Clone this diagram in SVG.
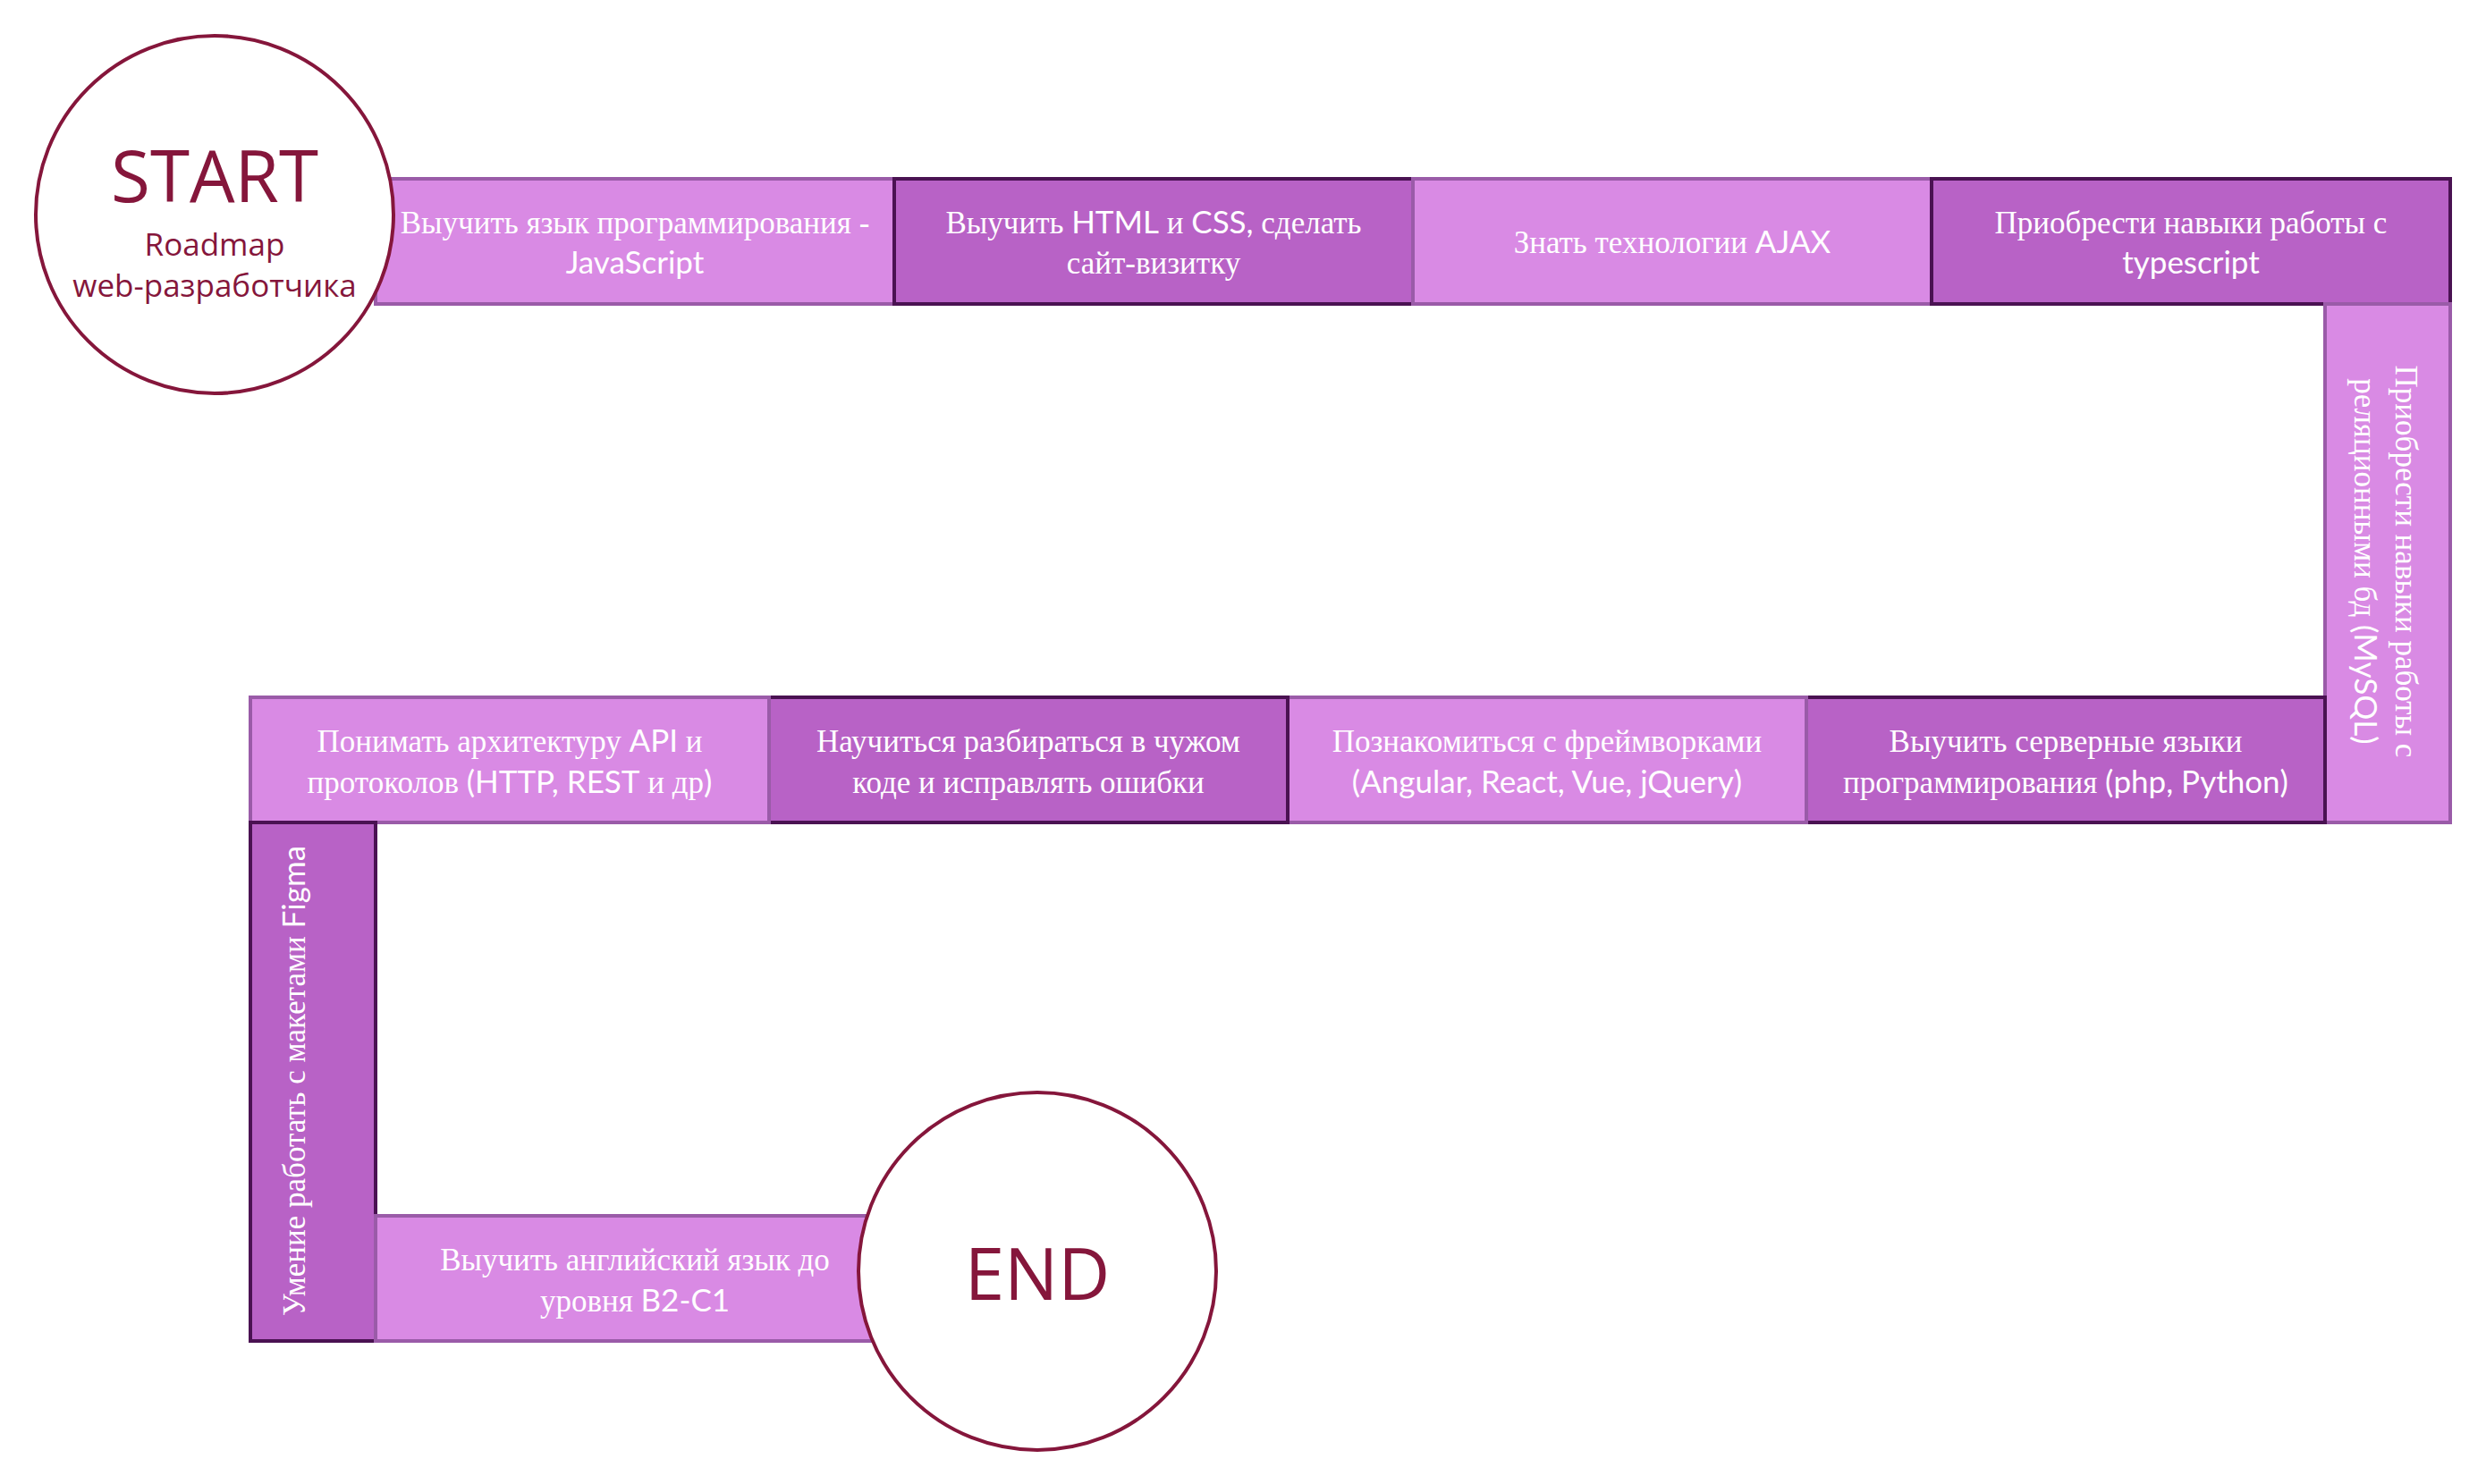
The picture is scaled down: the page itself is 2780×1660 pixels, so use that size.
<svg xmlns="http://www.w3.org/2000/svg" width="2780" height="1660" viewBox="0 0 2780 1660">
<style>
.lt{fill:#D98AE4;stroke:#9A5BA8;stroke-width:4}
.dk{fill:#B862C6;stroke:#4A1252;stroke-width:4}
.t{font-family:"Liberation Serif",serif;font-size:35px;fill:#FFFFFF;text-anchor:middle}
.l{font-family:Lato,"Liberation Sans",sans-serif}
.circ{fill:#FFFFFF;stroke:#85163B;stroke-width:4}
.ct{font-family:"Open Sans","Noto Sans",sans-serif;fill:#85163B;text-anchor:middle}
</style>
<rect width="2780" height="1660" fill="#FFFFFF"/>
<g id="connectors"></g>
<g id="step1">
<rect class="lt" x="420" y="200" width="580" height="140"/>
<text class="t"><tspan x="710" y="261">Выучить язык программирования -</tspan><tspan x="710" y="306" class="l">JavaScript</tspan></text>
</g>
<g id="step2">
<rect class="dk" x="1000" y="200" width="580" height="140"/>
<text class="t"><tspan x="1290" y="261">Выучить <tspan class="l">HTML</tspan> и <tspan class="l">CSS,</tspan> сделать</tspan><tspan x="1290" y="306">сайт-визитку</tspan></text>
</g>
<g id="step3">
<rect class="lt" x="1580" y="200" width="580" height="140"/>
<text class="t"><tspan x="1870" y="283">Знать технологии <tspan class="l">AJAX</tspan></tspan></text>
</g>
<g id="step4">
<rect class="dk" x="2160" y="200" width="580" height="140"/>
<text class="t"><tspan x="2450" y="261">Приобрести навыки работы с</tspan><tspan x="2450" y="306" class="l">typescript</tspan></text>
</g>
<g id="step5">
<rect class="lt" x="2600" y="340" width="140" height="580"/>
<text class="t" transform="translate(2670,628) rotate(90)"><tspan x="0" y="-9">Приобрести навыки работы с</tspan><tspan x="0" y="37">реляционными бд <tspan class="l">(MySQL)</tspan></tspan></text>
</g>
<g id="step6">
<rect class="dk" x="2020" y="780" width="580" height="140"/>
<text class="t"><tspan x="2310" y="841">Выучить серверные языки</tspan><tspan x="2310" y="887">программирования <tspan class="l">(php, Python)</tspan></tspan></text>
</g>
<g id="step7">
<rect class="lt" x="1440" y="780" width="580" height="140"/>
<text class="t"><tspan x="1730" y="841">Познакомиться с фреймворками</tspan><tspan x="1730" y="887" class="l">(Angular, React, Vue, jQuery)</tspan></text>
</g>
<g id="step8">
<rect class="dk" x="860" y="780" width="580" height="140"/>
<text class="t"><tspan x="1150" y="841">Научиться разбираться в чужом</tspan><tspan x="1150" y="887">коде и исправлять ошибки</tspan></text>
</g>
<g id="step9">
<rect class="lt" x="280" y="780" width="580" height="140"/>
<text class="t"><tspan x="570" y="841">Понимать архитектуру <tspan class="l">API</tspan> и</tspan><tspan x="570" y="887">протоколов <tspan class="l">(HTTP, REST</tspan> и др<tspan class="l">)</tspan></tspan></text>
</g>
<g id="step10">
<rect class="dk" x="280" y="920" width="140" height="580"/>
<text class="t" transform="translate(350,1209) rotate(-90)"><tspan x="0" y="-9">Умение работать с макетами <tspan class="l">Figma</tspan></tspan></text>
</g>
<g id="step11">
<rect class="lt" x="420" y="1360" width="580" height="140"/>
<text class="t"><tspan x="710" y="1421">Выучить английский язык до</tspan><tspan x="710" y="1467">уровня <tspan class="l">B2-C1</tspan></tspan></text>
</g>
<g id="start">
<circle class="circ" cx="240" cy="240" r="200"/>
<text class="ct" x="240" y="226" font-size="80">START</text>
<text class="ct" x="240" y="286" font-size="35">Roadmap</text>
<text class="ct" x="240" y="332" font-size="35">web-разработчика</text>
</g>
<g id="end">
<circle class="circ" cx="1160" cy="1422" r="200"/>
<text class="ct" x="1160" y="1454" font-size="80">END</text>
</g>
</svg>
